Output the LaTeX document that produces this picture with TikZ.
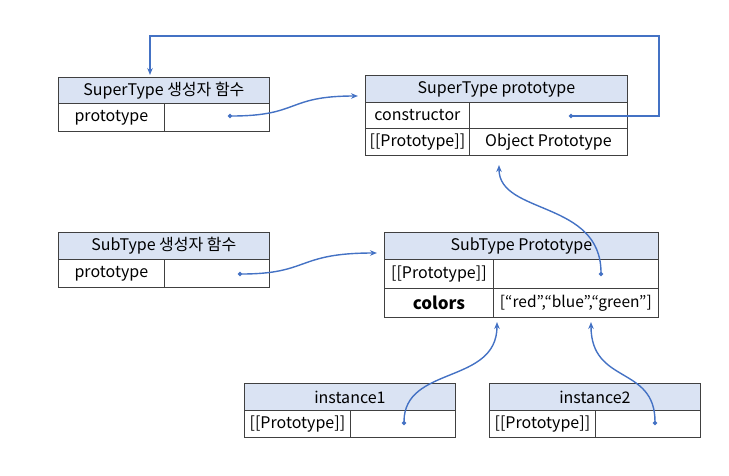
\documentclass[tikz,border=0pt]{standalone}
\usepackage{fontspec}
\setmainfont{Noto Sans CJK KR}
\usetikzlibrary{arrows.meta}
\definecolor{lineblue}{HTML}{4472C4}
\definecolor{hdr}{HTML}{DAE3F3}
\definecolor{bord}{HTML}{404040}
\begin{document}
\begin{tikzpicture}[x=1pt,y=-1pt,
  cell/.style={draw=bord, line width=0.8pt, anchor=north west, inner sep=0pt,
    font=\fontsize{16}{18}\selectfont, align=center},
  head/.style={cell, fill=hdr},
  link/.style={draw=lineblue, line width=1.4pt,
    {Circle[length=4pt]}-{Stealth[length=7pt,width=5.5pt]}}]
\useasboundingbox (0,0) rectangle (729,475);
% Table 1
\node[head, minimum width=211, minimum height=26] (h1) at (58,77) {SuperType 생성자 함수};
\node[cell, minimum width=106, minimum height=28] (a1) at (58,103) {prototype};
\node[cell, minimum width=105, minimum height=28] (b1) at (164,103) {};
% Table 2
\node[head, minimum width=262, minimum height=27] (h2) at (365,75) {SuperType prototype};
\node[cell, minimum width=104, minimum height=26] (a2) at (365,102) {constructor};
\node[cell, minimum width=158, minimum height=26] (b2) at (469,102) {};
\node[cell, minimum width=104, minimum height=27] (c2) at (365,128) {[[Prototype]]};
\node[cell, minimum width=158, minimum height=27] (d2) at (469,128) {Object Prototype};
% Table 3
\node[head, minimum width=211, minimum height=27] (h3) at (58,232) {SubType 생성자 함수};
\node[cell, minimum width=106, minimum height=28] (a3) at (58,259) {prototype};
\node[cell, minimum width=105, minimum height=28] (b3) at (164,259) {};
% Table 4
\node[head, minimum width=274, minimum height=27] (h4) at (384,232) {SubType Prototype};
\node[cell, minimum width=109, minimum height=29] (a4) at (384,259) {[[Prototype]]};
\node[cell, minimum width=165, minimum height=29] (b4) at (493,259) {};
\node[cell, minimum width=109, minimum height=29, font=\fontsize{17}{19}\selectfont\bfseries] (c4) at (384,288) {colors};
\node[cell, minimum width=165, minimum height=29, font=\fontsize{15.5}{18}\selectfont] (d4) at (493,288) {[“red”,“blue”,“green”]};
% Table 5
\node[head, minimum width=211, minimum height=27] (h5) at (244,383) {instance1};
\node[cell, minimum width=106, minimum height=27] (a5) at (244,410) {[[Prototype]]};
\node[cell, minimum width=105, minimum height=27] (b5) at (350,410) {};
% Table 6
\node[head, minimum width=211, minimum height=27] (h6) at (489,383) {instance2};
\node[cell, minimum width=106, minimum height=27] (a6) at (489,410) {[[Prototype]]};
\node[cell, minimum width=105, minimum height=27] (b6) at (595,410) {};
% connector points
\coordinate (s1) at (228,116);
\coordinate (t1) at (358,96);
\coordinate (s2) at (569,116);
\coordinate (k1) at (659,116);
\coordinate (k2) at (659,36);
\coordinate (k3) at (150,36);
\coordinate (t2) at (150,75);
\coordinate (s3) at (238,274);
\coordinate (t3) at (377,253);
\coordinate (s4) at (601,276);
\coordinate (t4) at (499,165);
\coordinate (s5) at (404,425);
\coordinate (t5) at (497,322);
\coordinate (s6) at (655,425);
\coordinate (t6) at (591,322);
% connectors
\draw[link] (s1) .. controls (300,116) and (286,96) .. (t1);
\draw[link] (s2) -- (k1) -- (k2) -- (k3) -- (t2);
\draw[link] (s3) .. controls (310,274) and (296,253) .. (t3);
\draw[link] (s4) .. controls (601,200) and (499,215) .. (t4);
\draw[link] (s5) .. controls (404,365) and (497,385) .. (t5);
\draw[link] (s6) .. controls (655,365) and (591,385) .. (t6);
\end{tikzpicture}
\end{document}
